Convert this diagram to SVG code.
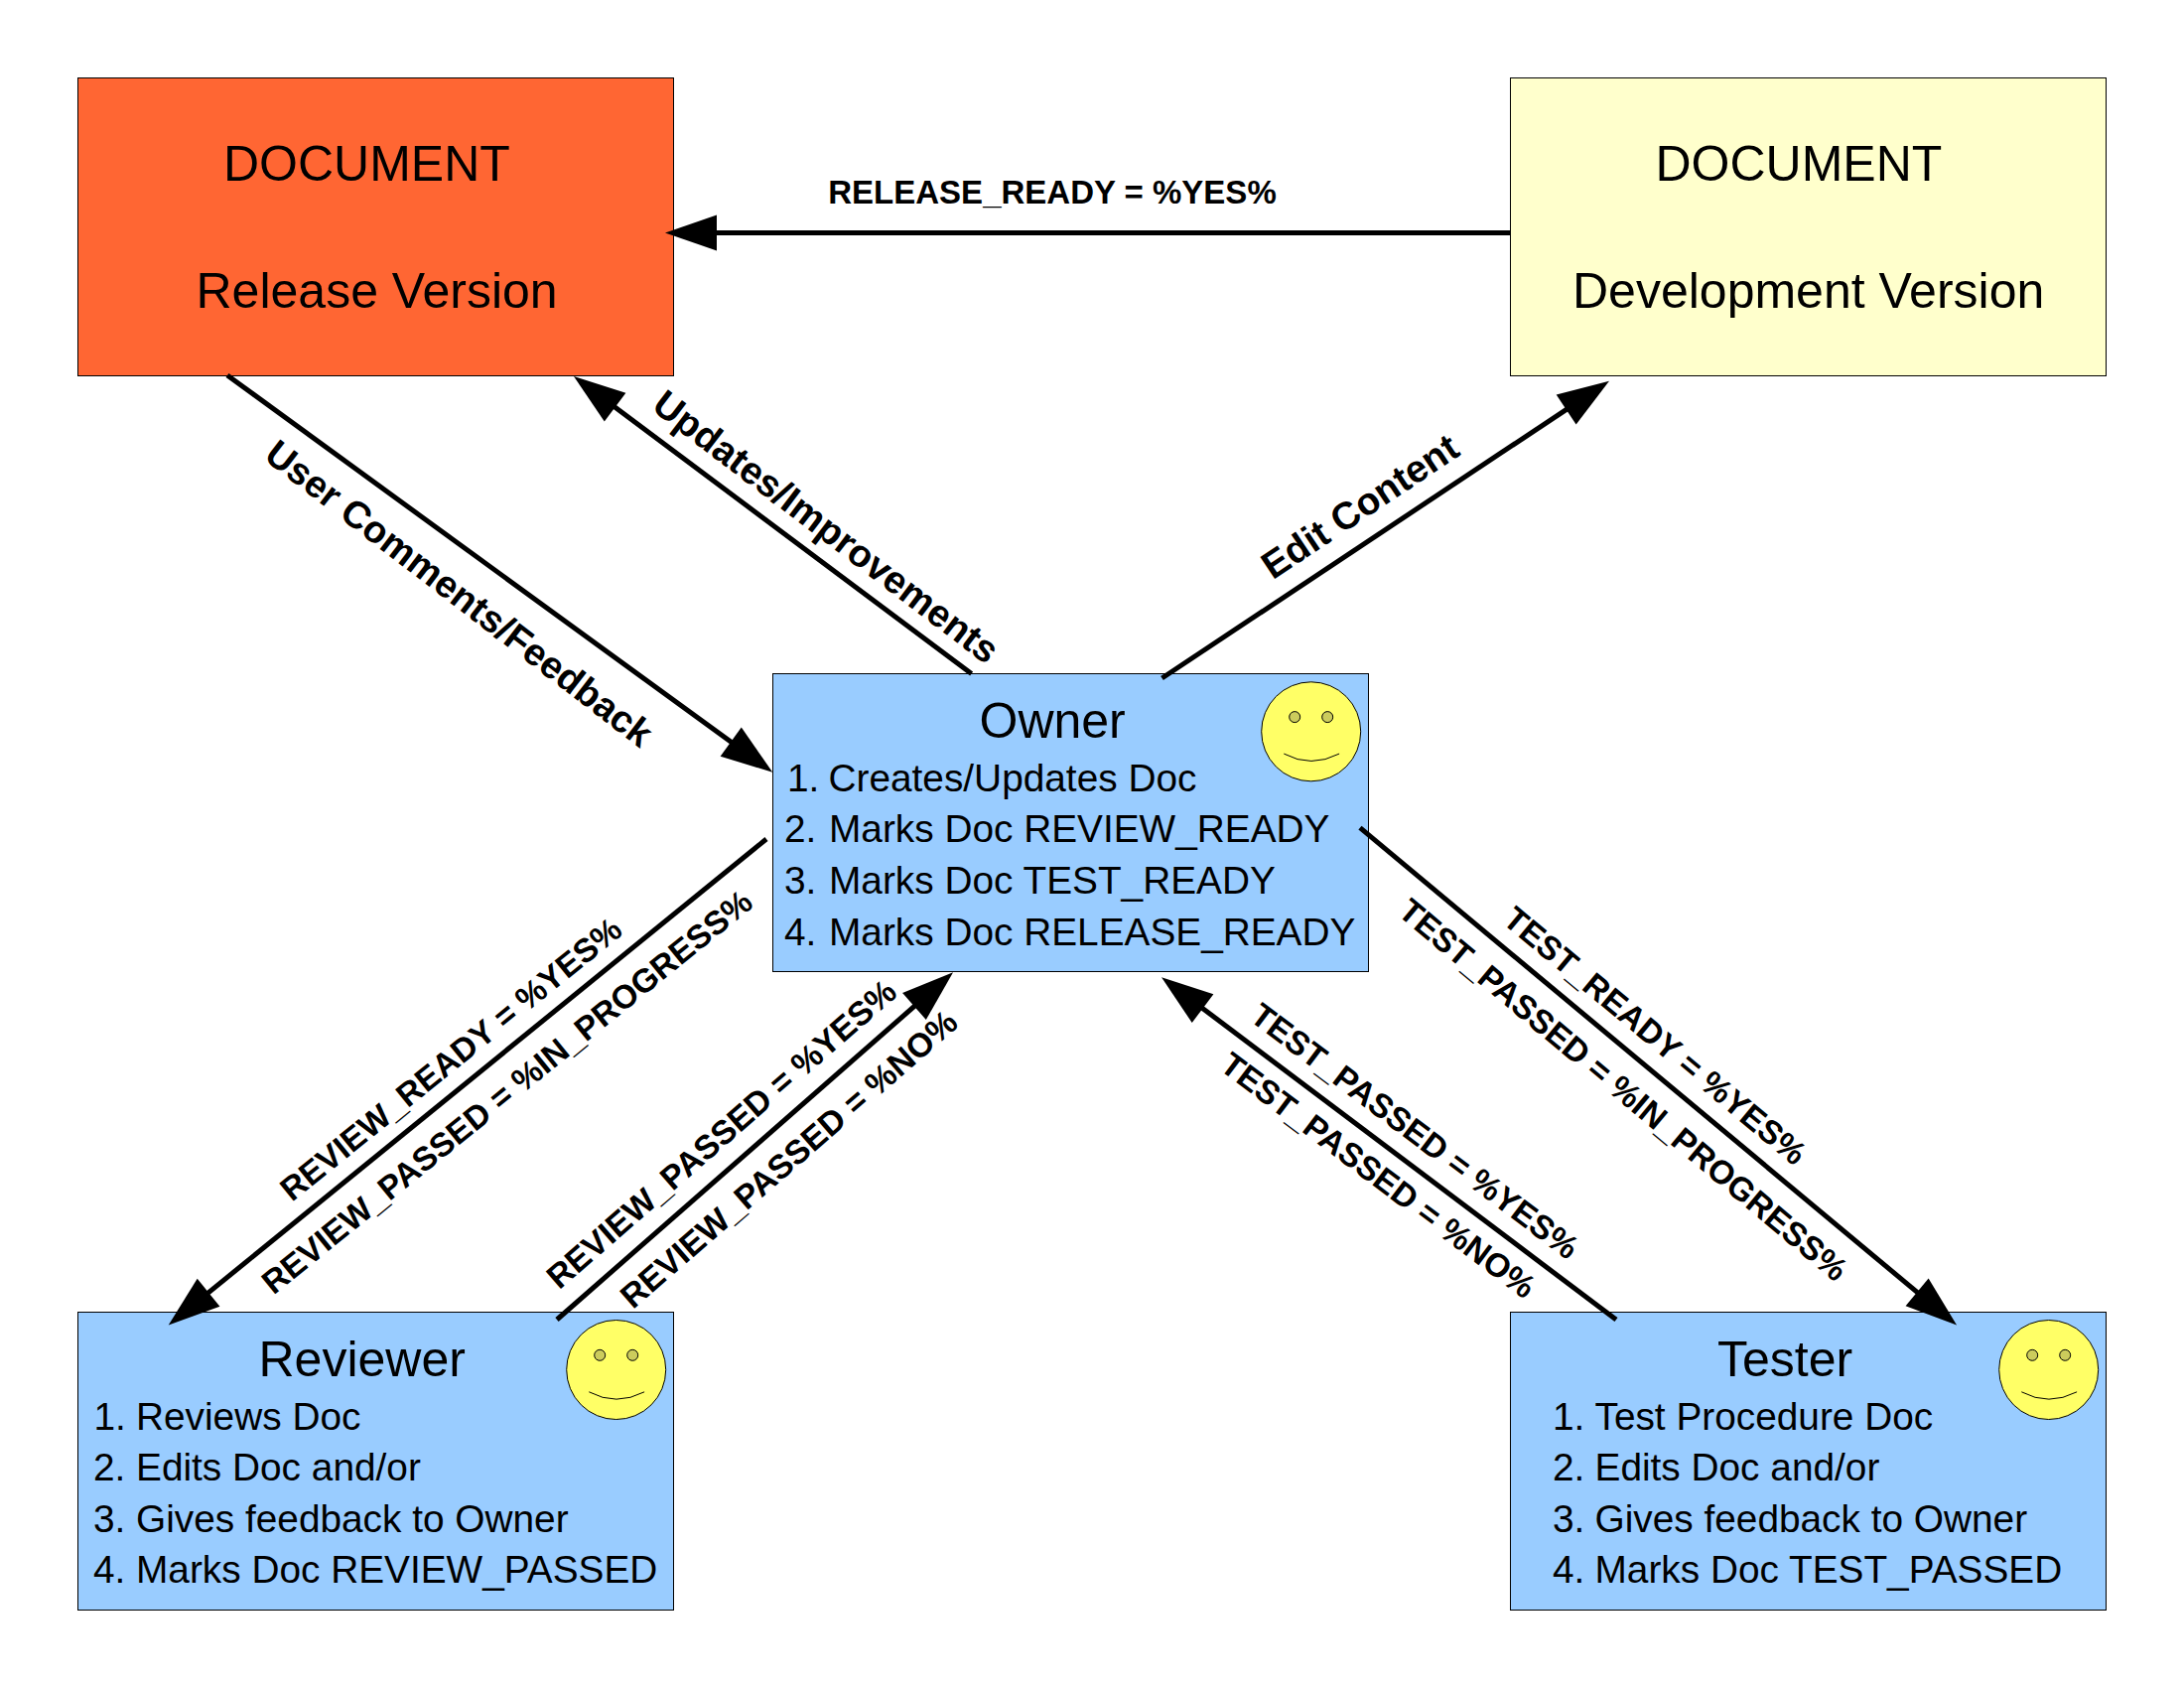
<svg xmlns="http://www.w3.org/2000/svg" width="2200" height="1700" viewBox="0 0 2200 1700">
<defs>
<style>
text{font-family:"Liberation Sans",Arial,sans-serif;fill:#000}
.box{stroke:#000;stroke-width:1}
.title{font-size:50px}
.item{font-size:38.8px}
.lab{font-size:33.4px;font-weight:bold;text-anchor:middle}
.big{font-size:38.5px}
.conn{fill:none;stroke:#000;stroke-width:5;marker-end:url(#arrow)}
.face{fill:#ffff66;stroke:#000;stroke-width:1}
.eye{fill:#cccc5c;stroke:#000;stroke-width:1}
.mouth{fill:none;stroke:#000;stroke-width:1}
</style>
<marker id="arrow" markerUnits="userSpaceOnUse" markerWidth="54" markerHeight="38" refX="22" refY="18" orient="auto" overflow="visible"><path d="M0 0L52 18L0 36Z" fill="#000"/></marker>
<g id="smile"><circle class="face" cx="50" cy="50" r="50"/><circle class="eye" cx="33.5" cy="35.3" r="5.5"/><circle class="eye" cx="66.5" cy="35.3" r="5.5"/><path class="mouth" d="M22.6 72.3Q50 87 78.4 72.3"/></g>
</defs>
<rect width="2200" height="1700" fill="#fff"/>
<g id="release"><rect class="box" x="78.5" y="78.5" width="600" height="300" fill="#ff6633"/><text class="title" x="225" y="181.5">DOCUMENT</text><text class="title" x="197.5" y="310">Release Version</text></g>
<g id="development"><rect class="box" x="1521.5" y="78.5" width="600" height="300" fill="#ffffcc"/><text class="title" x="1667.5" y="181.5">DOCUMENT</text><text class="title" x="1584" y="310">Development Version</text></g>
<g id="owner"><rect class="box" x="778.5" y="678.5" width="600" height="300" fill="#99ccff"/><use href="#smile" x="1270.7" y="686.8"/><text class="title" x="986.5" y="743">Owner</text>
<g class="item"><text x="793" y="797">1.</text><text x="834.5" y="797">Creates/Updates Doc</text><text x="790" y="848">2.</text><text x="835" y="848">Marks Doc REVIEW_READY</text><text x="790" y="900">3.</text><text x="835" y="900">Marks Doc TEST_READY</text><text x="790" y="952">4.</text><text x="835" y="952">Marks Doc RELEASE_READY</text></g></g>
<g id="reviewer"><rect class="box" x="78.5" y="1321.5" width="600" height="300" fill="#99ccff"/><use href="#smile" x="570.7" y="1329.5"/><text class="title" x="260.5" y="1386">Reviewer</text>
<g class="item"><text x="94.5" y="1439.5">1.</text><text x="137" y="1439.5">Reviews Doc</text><text x="94" y="1491">2.</text><text x="137" y="1491">Edits Doc and/or</text><text x="94" y="1543">3.</text><text x="137" y="1543">Gives feedback to Owner</text><text x="94" y="1594">4.</text><text x="137" y="1594">Marks Doc REVIEW_PASSED</text></g></g>
<g id="tester"><rect class="box" x="1521.5" y="1321.5" width="600" height="300" fill="#99ccff"/><use href="#smile" x="2013.7" y="1329.5"/><text class="title" x="1730" y="1386">Tester</text>
<g class="item"><text x="1564" y="1439.5">1.</text><text x="1606.5" y="1439.5">Test Procedure Doc</text><text x="1564" y="1491">2.</text><text x="1606.5" y="1491">Edits Doc and/or</text><text x="1564" y="1543">3.</text><text x="1606.5" y="1543">Gives feedback to Owner</text><text x="1564" y="1594">4.</text><text x="1606.5" y="1594">Marks Doc TEST_PASSED</text></g></g>
<g id="connectors">
<line class="conn" x1="1521.5" y1="234.5" x2="700" y2="234.5"/>
<line class="conn" x1="229" y1="378" x2="754" y2="760.1"/>
<line class="conn" x1="978.6" y1="678.6" x2="602" y2="396.9"/>
<line class="conn" x1="1170.5" y1="683" x2="1596" y2="400.3"/>
<line class="conn" x1="772" y1="845" x2="193" y2="1315.6"/>
<line class="conn" x1="561" y1="1329" x2="937.5" y2="999"/>
<line class="conn" x1="1370" y1="833.6" x2="1948" y2="1315.4"/>
<line class="conn" x1="1628" y1="1329" x2="1194" y2="1002.4"/>
</g>
<g id="labels">
<text class="lab" style="font-size:33px" x="1060" y="205">RELEASE_READY = %YES%</text>
<text class="lab big" style="font-size:38.2px" y="12" transform="translate(462,598.5) rotate(37.5)">User Comments/Feedback</text>
<text class="lab big" y="12" transform="translate(831.5,531.5) rotate(37.3)">Updates/Improvements</text>
<text class="lab big" y="12" transform="translate(1370.5,511) rotate(-33.7)">Edit Content</text>
<text class="lab" y="11" transform="translate(454.5,1067) rotate(-39)">REVIEW_READY = %YES%</text>
<text class="lab" y="11" transform="translate(511,1100) rotate(-39)">REVIEW_PASSED = %IN_PROGRESS%</text>
<text class="lab" style="font-size:33.7px" y="11" transform="translate(727,1142.6) rotate(-41)">REVIEW_PASSED = %YES%</text>
<text class="lab" style="font-size:33.7px" y="11" transform="translate(795,1167.8) rotate(-41)">REVIEW_PASSED = %NO%</text>
<text class="lab" y="11" transform="translate(1667,1043.5) rotate(39.8)">TEST_READY = %YES%</text>
<text class="lab" y="11" transform="translate(1635,1098) rotate(40)">TEST_PASSED = %IN_PROGRESS%</text>
<text class="lab" y="11" transform="translate(1425,1139.5) rotate(37)">TEST_PASSED = %YES%</text>
<text class="lab" y="11" transform="translate(1388,1184) rotate(37)">TEST_PASSED = %NO%</text>
</g>
</svg>
